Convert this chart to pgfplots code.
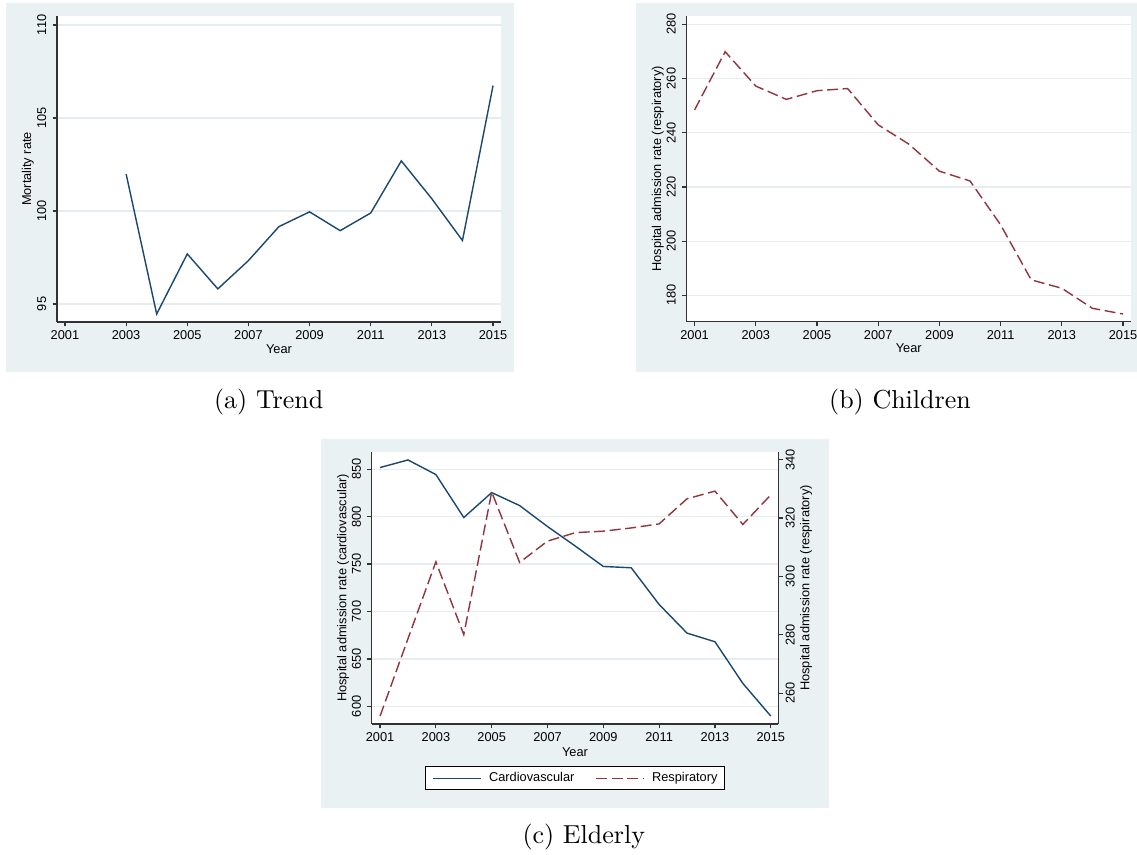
\documentclass[border=0pt]{standalone}
\usepackage{fontspec}
\usepackage{pgfplots}
\pgfplotsset{compat=1.18}
\newfontfamily\arial{Liberation Sans}
\newfontfamily\lmten{lmroman10-regular}[Extension=.otf]
\definecolor{stbg}{RGB}{234,241,243}
\definecolor{stgrid}{RGB}{230,237,240}
\definecolor{stnavy}{RGB}{26,71,111}
\definecolor{stmaroon}{RGB}{144,53,59}
\definecolor{staxis}{RGB}{50,50,50}
\newcommand{\stfont}{\arial\fontsize{6.4}{7.5}\selectfont}

\pgfplotsset{
  statastyle/.style={
    scale only axis,
    anchor=south west,
    axis background/.style={fill=white},
    axis x line*=bottom,
    axis y line*=left,
    axis line style={staxis, line width=0.6pt},
    tick align=outside,
    major tick length=2.2pt,
    tick style={staxis, line width=0.6pt},
    tick label style={font=\stfont},
    label style={font=\stfont},
    xtick={2001,2003,2005,2007,2009,2011,2013,2015},
    xticklabels={2001,2003,2005,2007,2009,2011,2013,2015},
    xticklabel style={anchor=north, inner xsep=0pt, inner ysep=1.8pt},
    yticklabel style={rotate=90, anchor=south, inner xsep=0pt, inner ysep=3pt},
    ymajorgrids,
    major grid style={stgrid, line width=0.6pt},
    xlabel={Year},
  },
  navyline/.style={stnavy, line width=0.7pt, no markers},
  maroonline/.style={stmaroon, line width=0.7pt, no markers, dash pattern=on 5.5pt off 2.3pt},
}

\begin{document}
\begin{tikzpicture}
\path[use as bounding box, fill=white] (0pt,0pt) rectangle (568.5pt,427.5pt);
\fill[stbg] (3pt,241.5pt) rectangle (257pt,426pt);
\fill[stbg] (318pt,241.5pt) rectangle (568.5pt,426pt);
\fill[stbg] (160.5pt,23.5pt) rectangle (414.5pt,208pt);

% (a) Trend
\begin{axis}[statastyle, at={(28.5pt,266.5pt)}, width=222pt, height=153pt,
  xmin=2000.74, xmax=2015.26, ymin=94.03, ymax=110.48,
  ytick={95,100,105,110}, yticklabels={95,100,105,110},
  ylabel={Mortality rate},
  ylabel style={at={(axis description cs:-0.066,0.5)}, anchor=center},
  xlabel style={at={(axis description cs:0.5,-0.088)}, anchor=center}]
\addplot[navyline] coordinates {
(2003,101.99) (2004,94.46) (2005,97.69) (2006,95.81) (2007,97.33) (2008,99.16)
(2009,99.95) (2010,98.94) (2011,99.89) (2012,102.69) (2013,100.65) (2014,98.41) (2015,106.74)};
\end{axis}

% (b) Children
\begin{axis}[statastyle, at={(343.3pt,266.65pt)}, width=222.2pt, height=152.85pt,
  xmin=2000.74, xmax=2015.26, ymin=170.27, ymax=283.07,
  ytick={180,200,220,240,260,280}, yticklabels={180,200,220,240,260,280},
  ylabel={Hospital admission rate (respiratory)},
  ylabel style={at={(axis description cs:-0.065,0.5)}, anchor=center},
  xlabel style={at={(axis description cs:0.5,-0.088)}, anchor=center}]
\addplot[maroonline] coordinates {
(2001,248.4) (2002,269.9) (2003,257.2) (2004,252.3) (2005,255.5) (2006,256.3)
(2007,242.9) (2008,235.8) (2009,225.8) (2010,222.2) (2011,206.0) (2012,185.7)
(2013,182.6) (2014,175.2) (2015,173.1)};
\end{axis}

% (c) Elderly
\begin{axis}[statastyle, at={(185.85pt,65.5pt)}, width=203.3pt, height=136pt,
  xmin=2000.70, xmax=2015.27, ymin=581.4, ymax=868.2,
  ytick={600,650,700,750,800,850}, yticklabels={600,650,700,750,800,850},
  ylabel={Hospital admission rate (cardiovascular)},
  ylabel style={at={(axis description cs:-0.0706,0.5)}, anchor=center},
  xlabel style={at={(axis description cs:0.5,-0.102)}, anchor=center},
  legend columns=2,
  legend cell align=left,
  legend image code/.code={\draw[#1] (0pt,0pt) -- (24pt,0pt);},
  legend style={at={(axis description cs:0.5,-0.1996)}, anchor=center,
    draw=black, line width=0.5pt, fill=white, font=\stfont,
    inner xsep=3.5pt, inner ysep=2.9pt,
    nodes={inner sep=0pt, text height=4.6pt, text depth=1.3pt},
    /tikz/every odd column/.append style={column sep=3.6pt},
    /tikz/every even column/.append style={column sep=10.5pt}}]
\addplot[navyline] coordinates {
(2001,851.8) (2002,859.8) (2003,844.4) (2004,799.1) (2005,825.4) (2006,811.7)
(2007,789.6) (2008,768.9) (2009,747.5) (2010,746.1) (2011,707.4) (2012,677.2)
(2013,668.1) (2014,624.2) (2015,589.8)};
\addlegendentry{Cardiovascular}
\addlegendimage{maroonline}
\addlegendentry{Respiratory}
\end{axis}
\begin{axis}[statastyle, at={(185.85pt,65.5pt)}, width=203.3pt, height=136pt,
  axis background/.style={},
  xmin=2000.70, xmax=2015.27, ymin=249.5, ymax=342.6,
  axis x line=none, axis y line*=right, ymajorgrids=false, xlabel={},
  ytick={260,280,300,320,340}, yticklabels={260,280,300,320,340},
  yticklabel style={anchor=north, inner ysep=1.3pt},
  ylabel={Hospital admission rate (respiratory)},
  ylabel style={at={(axis description cs:1.068,0.5)}, anchor=center}]
\addplot[maroonline] coordinates {
(2001,252.2) (2002,278.7) (2003,305.0) (2004,280.1) (2005,328.9) (2006,304.8)
(2007,312.1) (2008,315.0) (2009,315.5) (2010,316.6) (2011,318.0) (2012,326.6)
(2013,329.2) (2014,317.8) (2015,327.9)};
\end{axis}

\node[anchor=base, font=\lmten\fontsize{13}{15}\selectfont] at (134.35pt,223.1pt) {(a) Trend};
\node[anchor=base, font=\lmten\fontsize{13}{15}\selectfont] at (450pt,223.1pt) {(b) Children};
\node[anchor=base, font=\lmten\fontsize{13}{15}\selectfont] at (291.9pt,5.5pt) {(c) Elderly};
\end{tikzpicture}
\end{document}
